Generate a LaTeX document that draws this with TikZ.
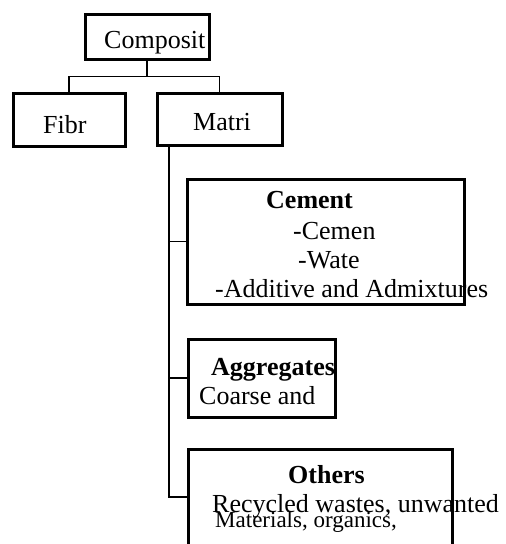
\documentclass[tikz,border=0pt]{standalone}
\usepackage{fontspec}
\setmainfont{Liberation Serif}
\begin{document}
\begin{tikzpicture}[x=1pt,y=-1pt,
  box/.style={draw,line width=3pt,rectangle,inner sep=0pt},
  txt/.style={anchor=base west,inner sep=0pt,font=\fontsize{26}{30}\selectfont},
  small/.style={anchor=base west,inner sep=0pt,font=\fontsize{23}{26}\selectfont},
  hd/.style={txt,font=\fontsize{26}{30}\selectfont\bfseries},
  link/.style={draw,line width=1.3pt}]
\useasboundingbox (0,0) rectangle (506,544);
\clip (0,0) rectangle (506,544);
% texts
\node[txt] (tcomp) at (104,48) {Composit};
\node[txt] (tfibr) at (43,133) {Fibr};
\node[txt] (tmatri) at (193,130) {Matri};
\node[hd]  (tcem) at (266,208) {Cement};
\node[txt] (tcem1) at (293,239) {-Cemen};
\node[txt] (tcem2) at (298,268) {-Wate};
\node[txt] (tcem3) at (215,297) {-Additive and Admixtures};
\node[hd]  (tagg) at (211,375) {Aggregates};
\node[txt] (tagg1) at (199,404) {Coarse and};
\node[hd]  (toth) at (288,483) {Others};
\node[txt] (toth1) at (212,512) {Recycled wastes, unwanted};
\node[small] (toth2) at (215,527) {Materials, organics,};
% boxes
\node[box,minimum width=124pt,minimum height=45pt] (comp) at (147,36.5) {};
\node[box,minimum width=112pt,minimum height=53pt] (fibr) at (69,119.5) {};
\node[box,minimum width=125pt,minimum height=52pt] (matri) at (219.5,119) {};
\node[box,minimum width=277pt,minimum height=125pt] (cement) at (325.5,241.5) {};
\node[box,minimum width=147pt,minimum height=78pt] (agg) at (261.5,378) {};
\node[box,minimum width=264pt,minimum height=131pt] (oth) at (320,514.5) {};
% connectors
\coordinate (trunk) at (169,146.5);
\coordinate (ob) at (oth.west |- 0,497);
\draw[link] (comp.south) -- ++(0,16) -| (fibr.north);
\draw[link] (comp.south) -- ++(0,16) -| (matri.north);
\draw[link] (trunk) |- (ob);
\draw[link] (trunk) |- (cement.west);
\draw[link] (trunk) |- (agg.west);
\end{tikzpicture}
\end{document}
